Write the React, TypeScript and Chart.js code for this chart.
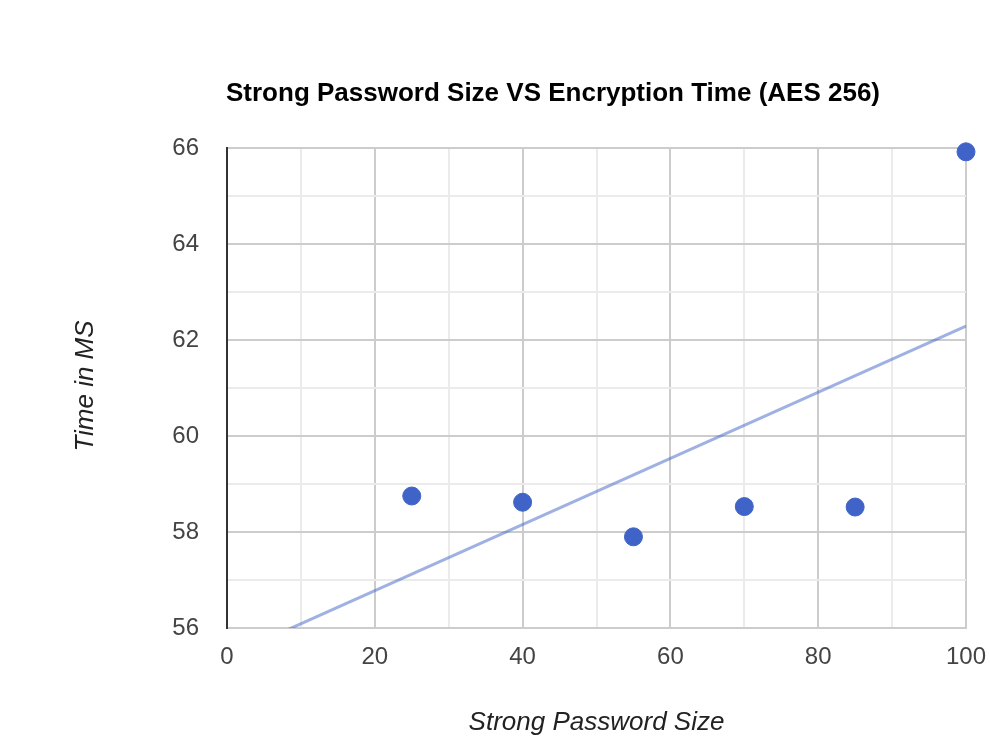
import React, { useEffect, useRef } from "react";
import { Chart, registerables } from "chart.js";

Chart.register(...registerables);

const passwordSizes = [25, 40, 55, 70, 85, 100];
const encryptionTimes = [58.75, 58.62, 57.9, 58.53, 58.52, 65.92];
const xTicks = [0, 20, 40, 60, 80, 100];
const yTicks = [56, 58, 60, 62, 64, 66];

const TITLE = "Strong Password Size VS Encryption Time (AES 256)";
const X_TITLE = "Strong Password Size";
const Y_TITLE = "Time in MS";
const FONT = "'Liberation Sans', Arial, sans-serif";

function trend(xs: number[], ys: number[]) {
  const n = xs.length;
  const mx = xs.reduce((a, b) => a + b, 0) / n;
  const my = ys.reduce((a, b) => a + b, 0) / n;
  let sxy = 0, sxx = 0;
  for (let i = 0; i < n; i++) {
    sxy += (xs[i] - mx) * (ys[i] - my);
    sxx += (xs[i] - mx) * (xs[i] - mx);
  }
  const m = sxy / sxx;
  const b = my - m * mx;
  return (x: number) => m * x + b;
}

export default function App() {
  const ref = useRef<HTMLCanvasElement>(null);
  useEffect(() => {
    const f = trend(passwordSizes, encryptionTimes);
    const xMin = xTicks[0];
    const xMax = xTicks[xTicks.length - 1];
    const textPlugin = {
      id: "texts",
      afterDraw(chart: any) {
        const { ctx, chartArea } = chart;
        ctx.save();
        ctx.fillStyle = "#000";
        ctx.font = `bold 26px ${FONT}`;
        ctx.textBaseline = "middle";
        ctx.textAlign = "left";
        ctx.fillText(TITLE, chartArea.left - 1, 94);
        ctx.fillStyle = "#222";
        ctx.font = `italic 26px ${FONT}`;
        ctx.textAlign = "center";
        ctx.fillText(X_TITLE, (chartArea.left + chartArea.right) / 2, 723);
        ctx.translate(86, (chartArea.top + chartArea.bottom) / 2 - 2);
        ctx.rotate(-Math.PI / 2);
        ctx.fillText(Y_TITLE, 0, 0);
        ctx.restore();
      },
    };
    const chart = new Chart(ref.current!, {
      type: "scatter",
      data: {
        datasets: [
          {
            type: "scatter",
            data: passwordSizes.map((x, i) => ({ x, y: encryptionTimes[i] })),
            backgroundColor: "#3f63c6",
            borderColor: "#3f63c6",
            pointRadius: 9,
            pointHoverRadius: 9,
            clip: false as any,
          },
          {
            type: "line",
            data: [
              { x: xMin, y: f(xMin) },
              { x: xMax, y: f(xMax) },
            ],
            borderColor: "rgba(63,99,198,0.5)",
            borderWidth: 3,
            pointRadius: 0,
            fill: false,
            clip: 0 as any,
          },
        ],
      },
      plugins: [textPlugin],
      options: {
        animation: false,
        responsive: false,
        layout: { padding: { left: 0, top: 148, right: 24, bottom: 0 } },
        plugins: { legend: { display: false }, tooltip: { enabled: false }, title: { display: false } },
        scales: {
          x: {
            type: "linear",
            min: xMin,
            max: xMax,
            afterFit: (s: any) => {
              s.height = 754 - 628;
              s.paddingLeft = 0;
              s.paddingRight = 0;
            },
            ticks: {
              stepSize: 10,
              padding: 15,
              color: "#444",
              font: { family: FONT, size: 24 },
              autoSkip: false,
              maxRotation: 0,
              callback: (v: any) => (xTicks.includes(Number(v)) ? String(v) : ""),
            },
            grid: {
              drawTicks: false,
              color: (c: any) => (xTicks.includes(c.tick.value) ? "#cccccc" : "#ebebeb"),
              lineWidth: 2,
            },
            border: { color: "#cccccc", width: 2 },
          },
          y: {
            type: "linear",
            min: yTicks[0],
            max: yTicks[yTicks.length - 1],
            afterFit: (s: any) => {
              s.width = 227;
              s.paddingTop = 0;
              s.paddingBottom = 0;
            },
            ticks: {
              stepSize: 1,
              padding: 28,
              color: "#444",
              font: { family: FONT, size: 24 },
              autoSkip: false,
              callback: (v: any) => (yTicks.includes(Number(v)) ? String(v) : ""),
            },
            grid: {
              drawTicks: false,
              color: (c: any) => (yTicks.includes(c.tick.value) ? "#cccccc" : "#ebebeb"),
              lineWidth: 2,
            },
            border: { color: "#333333", width: 2 },
          },
        },
      },
    } as any);
    return () => chart.destroy();
  }, []);
  return (
    <div style={{ position: "fixed", left: 0, top: 0, width: 990, height: 754, background: "#fff" }}>
      <canvas ref={ref} width={990} height={754} style={{ width: 990, height: 754 }} />
    </div>
  );
}
